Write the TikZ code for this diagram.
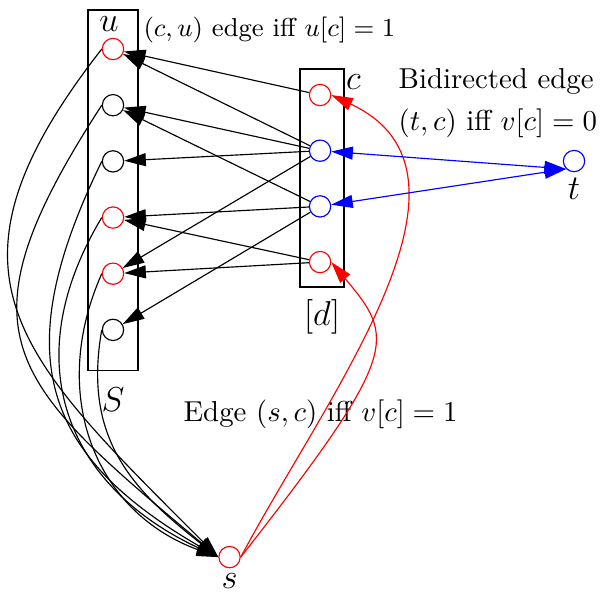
\documentclass[tikz,border=0pt]{standalone}
\usepackage{amsmath}
\usepackage{tikz}
\usetikzlibrary{positioning, arrows.meta}

\begin{document}
\begin{tikzpicture}[>={Triangle[length=7.5pt,width=4.5pt]}, node distance=1pt,
    vtx/.style={draw, circle, minimum size=0.26cm, inner sep=0pt},
    lbl/.style={font=\large, inner sep=0.5pt}]
    \useasboundingbox (0,0) rectangle (7.39,7.244);

    % Boxes S and [d]
    \node[draw, minimum width=0.61cm, minimum height=4.40cm, inner sep=0pt] (Sbox) at (1.378,4.921) {};
    \node[lbl, below=5.1pt of Sbox] {$S$};
    \node[draw, minimum width=0.537cm, minimum height=2.659cm, inner sep=0pt] (dbox) at (3.927,5.073) {};
    \node[lbl, below=3.4pt of dbox] {$[d]$};

    % Vertices of S
    \foreach \i/\c in {1/red,2/black,3/black,4/red,5/red,6/black}
        \node[vtx, draw=\c] (S\i) at (1.378,{6.646-0.685*(\i-1)}) {};
    \node[lbl, above=1.4pt of S1, xshift=-1.4pt] {$u$};

    % Vertices of [d]
    \foreach \i/\c in {1/red,2/blue,3/blue,4/red}
        \node[vtx, draw=\c] (d\i) at (3.903,{6.085-0.679*(\i-1)}) {};
    \node[lbl, above right=-1.4pt and 5.6pt of d1] {$c$};

    % t and s
    \node[vtx, draw=blue] (t) at (7.0,5.28) {};
    \node[lbl, below=1.4pt of t] {$t$};
    \node[vtx, draw=red] (s) at (2.799,0.45) {};
    \node[lbl, below=1pt of s] {$s$};

    % Texts
    \node[font=\small, inner sep=0pt, anchor=base west] (cu) at (1.744,6.793) {$(c,u)$ edge iff $u[c]=1$};
    \node[inner sep=0pt, anchor=north west, align=left] (bi) at (4.854,6.415) {Bidirected edge\\[2.7pt]$(t,c)$ iff $v[c]=0$};
    \node[inner sep=0pt, anchor=base west] (sc) at (2.232,2.098) {Edge $(s,c)$ iff $v[c]=1$};

    % Edges (c,u)
    \foreach \a/\b in {1/1,2/1,2/2,2/3,2/5,3/2,3/4,3/6,4/4,4/5}
        \draw[->] (d\a) -- (S\b);

    % Edges (u,s)
    \foreach \i/\o/\n/\l in {1/-128/135/1.4, 2/-123/140/1.5, 3/-116/150/1.3, 4/-121/155/1.2, 5/-114/160/1.1, 6/-100/142/1.1}
        \draw[->] (S\i.west) to[out=\o, in=\n, looseness=\l] (s.west);

    % Edges (s,c)
    \draw[->, red] (s.east) .. controls +(62:2.26) and +(-25:2.26) .. (d1.east);
    \draw[->, red] (s.east) .. controls +(52:3.17) and +(-50:1.22) .. (d4.east);

    % Bidirected edges (t,c)
    \draw[<->, blue] (d2) -- (t.south west);
    \draw[<->, blue] (d3) -- (t.south west);
\end{tikzpicture}
\end{document}
